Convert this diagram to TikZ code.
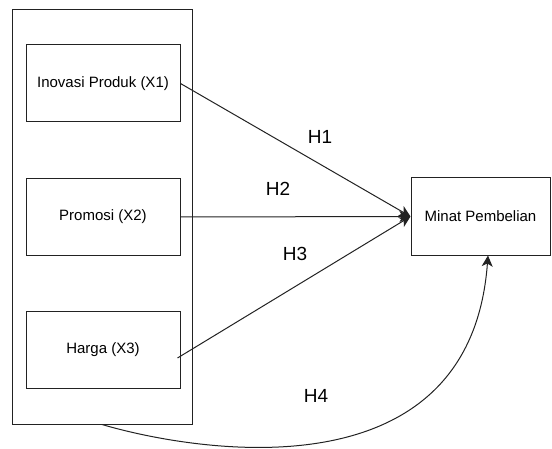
\documentclass[tikz,border=0pt]{standalone}
\usepackage{fontspec}
\setmainfont{Liberation Sans}
\usetikzlibrary{arrows.meta, positioning}
\definecolor{boxline}{RGB}{34, 34, 34}

\begin{document}
\begin{tikzpicture}[x=1pt, y=1pt,
  varbox/.style={draw=boxline, line width=1pt, minimum width=154pt, minimum height=77pt, inner sep=0pt, font=\fontsize{15}{18}\selectfont},
  hyp/.style={draw=boxline, line width=1pt, -{Stealth[length=11pt, width=11pt, inset=3pt]}},
  hlabel/.style={font=\fontsize{19}{22}\selectfont}]
  \useasboundingbox (0,0) rectangle (552,448);
  \node[draw=boxline, line width=1pt, minimum width=180pt, minimum height=414pt, inner sep=0pt] (group) at (102,231) {};
  \node[varbox] (inovasi) at (103,364.5) {Inovasi Produk (X1)};
  \node[varbox, below=55.5pt of inovasi] (promosi) {Promosi (X2)};
  \node[varbox, below=55pt of promosi] (harga) {Harga (X3)};
  \node[varbox, minimum width=139pt] (minat) at (480.5,231.5) {Minat Pembelian};
  % hipotesis
  \draw[hyp] (inovasi.east) -- (minat.west);
  \draw[hyp] (promosi.east) -- (minat.west);
  \draw[hyp] ([shift={(-3pt,-8pt)}]harga.east) -- (minat.west);
  \draw[hyp] (group.south) .. controls +(88,-26) and +(-18,-245) .. ([xshift=7.5pt]minat.south);
  \node[hlabel] (h1) at (320,311) {H1};
  \node[hlabel] (h2) at (278,259) {H2};
  \node[hlabel] (h3) at (295,194) {H3};
  \node[hlabel] (h4) at (316,52) {H4};
\end{tikzpicture}
\end{document}
